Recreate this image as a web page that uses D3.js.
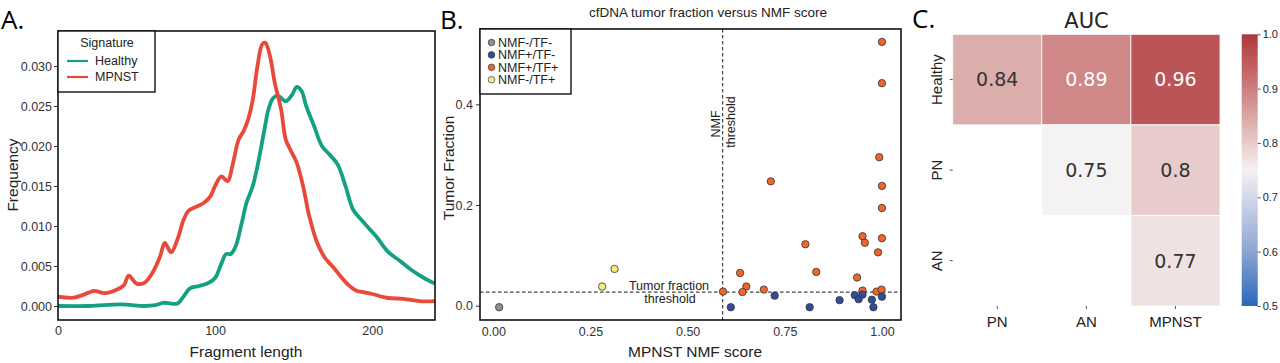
<!DOCTYPE html>
<html>
<head>
<meta charset="utf-8">
<script src="https://cdn.jsdelivr.net/npm/d3@7"></script>
<style>
  body { margin: 0; background: #fff; }
  svg { display: block; }
</style>
</head>
<body>
<div id="chart"></div>
<script>
// ---- data ----
const healthyLength = [0,20,40,55,62,67,72,76,80,84,90,96,100,104,107,110,113,117,120,124,127,131,134,137,140,145,149,152,155,158,163,168,173,178,183,188,193,198,203,210,218,225,233,240];
const healthyFreq = [0,0,0.0002,0,0.0001,0.0004,0.0003,0.0003,0.0012,0.0022,0.0025,0.0029,0.0035,0.0053,0.0065,0.0065,0.0074,0.0104,0.0129,0.0150,0.0175,0.0216,0.0246,0.0260,0.0263,0.0256,0.0264,0.0274,0.0269,0.0250,0.0225,0.0200,0.0189,0.0177,0.0150,0.0120,0.0108,0.0097,0.0086,0.0068,0.0056,0.0045,0.0035,0.0028];
const mpnstLength = [0,10,20,23,30,38,42,45,50,55,60,65,68,72,76,80,83,88,93,97,100,104,108,111,115,118,121,124,127,130,132,135,138,142,145,148,152,156,160,165,170,175,180,185,190,195,200,210,220,230,240];
const mpnstFreq = [0.00117,0.00105,0.0017,0.0019,0.0016,0.0021,0.0026,0.0038,0.0028,0.0029,0.0041,0.0062,0.0079,0.0067,0.0083,0.0108,0.0119,0.0124,0.0129,0.0137,0.0150,0.0162,0.0156,0.0175,0.0208,0.0218,0.0233,0.0258,0.0300,0.0327,0.0329,0.0312,0.0279,0.0246,0.0208,0.0195,0.0179,0.0150,0.0112,0.0079,0.0060,0.0049,0.0037,0.0026,0.0019,0.0017,0.0015,0.0010,0.0009,0.0006,0.0006];
const freqTicks = [0, 0.005, 0.01, 0.015, 0.02, 0.025, 0.03];
const lengthTicks = [0, 100, 200];

const statusGroups = ["NMF-/TF-", "NMF+/TF-", "NMF+/TF+", "NMF-/TF+"];
const nmfScore = [0.015, 0.280, 0.312,
  1.0, 1.0, 0.993, 1.0, 1.0, 1.0, 0.950, 0.956, 0.990, 0.714, 0.803, 0.831, 0.936, 0.635, 0.651, 0.641, 0.591, 0.696, 0.950, 0.986, 0.999,
  0.611, 0.724, 0.814, 0.891, 0.930, 0.940, 0.950, 0.974, 0.978, 1.0];
const tumorFraction = [-0.003, 0.038, 0.073,
  0.524, 0.442, 0.295, 0.238, 0.194, 0.134, 0.138, 0.125, 0.106, 0.247, 0.122, 0.067, 0.056, 0.065, 0.038, 0.027, 0.028, 0.032, 0.030, 0.028, 0.032,
  -0.003, 0.020, -0.003, 0.011, 0.021, 0.013, 0.022, 0.012, -0.003, 0.018];
const sampleStatus = ["NMF-/TF-", "NMF-/TF+", "NMF-/TF+",
  "NMF+/TF+","NMF+/TF+","NMF+/TF+","NMF+/TF+","NMF+/TF+","NMF+/TF+","NMF+/TF+","NMF+/TF+","NMF+/TF+","NMF+/TF+","NMF+/TF+","NMF+/TF+","NMF+/TF+","NMF+/TF+","NMF+/TF+","NMF+/TF+","NMF+/TF+","NMF+/TF+","NMF+/TF+","NMF+/TF+","NMF+/TF+",
  "NMF+/TF-","NMF+/TF-","NMF+/TF-","NMF+/TF-","NMF+/TF-","NMF+/TF-","NMF+/TF-","NMF+/TF-","NMF+/TF-","NMF+/TF-"];
const nmfThreshold = 0.59;
const tfThreshold = 0.027;
const scoreTicks = [0, 0.25, 0.5, 0.75, 1.0];
const fractionTicks = [0, 0.2, 0.4];

const aucRows = ["Healthy", "PN", "AN"];
const aucCols = ["PN", "AN", "MPNST"];
const aucValues = [
  [0.84, 0.89, 0.96],
  [null, 0.75, 0.8],
  [null, null, 0.77]
];
const aucTicks = [0.5, 0.6, 0.7, 0.8, 0.9, 1.0];

// ---- canvas ----
const width = 1280, height = 363;
const svg = d3.select("#chart").append("svg")
    .attr("width", width)
    .attr("height", height)
    .style("font-family", "'Liberation Sans', Arial, sans-serif");

const panelFont = "'Open Sans', 'DejaVu Sans', sans-serif";
const tickColor = "#333";

// ===== Panel A: fragment length =====
const ax = d3.scaleLinear().domain([0, 240]).range([58, 435]);
const ay = d3.scaleLinear().domain([-0.00175, 0.034375]).range([320, 31]);

svg.append("text").attr("x", 1).attr("y", 29)
    .style("font-family", panelFont).style("font-size", "26px").text("A.");

const gA = svg.append("g");
gA.append("g").attr("transform", "translate(0,320)")
    .call(d3.axisBottom(ax).tickValues(lengthTicks).tickSize(0).tickPadding(6))
    .call(g => g.select(".domain").remove())
    .selectAll("text").style("font-size", "12.5px").style("font-family", "inherit").attr("fill", tickColor);
gA.append("g").attr("transform", "translate(58,0)")
    .call(d3.axisLeft(ay).tickValues(freqTicks).tickFormat(d3.format(".3f")).tickSize(4).tickPadding(2))
    .call(g => g.select(".domain").remove())
    .call(g => g.selectAll("line").attr("stroke", tickColor))
    .selectAll("text").style("font-size", "12.5px").style("font-family", "inherit").attr("fill", tickColor);

const lineA = d3.line().x(d => ax(d[0])).y(d => ay(d[1])).curve(d3.curveCatmullRom);
const seriesA = [
  { name: "Healthy", color: "#15a083", pts: d3.zip(healthyLength, healthyFreq) },
  { name: "MPNST", color: "#e8493a", pts: d3.zip(mpnstLength, mpnstFreq) }
];
gA.selectAll("path.curve").data(seriesA).enter().append("path")
    .attr("class", "curve")
    .attr("fill", "none")
    .attr("stroke", d => d.color)
    .attr("stroke-width", 3.8)
    .attr("stroke-linejoin", "round")
    .attr("d", d => lineA(d.pts));

gA.append("rect").attr("x", 58).attr("y", 31).attr("width", 377).attr("height", 289)
    .attr("fill", "none").attr("stroke", "#111").attr("stroke-width", 1.6);

// legend A
gA.append("rect").attr("x", 58).attr("y", 31).attr("width", 97).attr("height", 61)
    .attr("fill", "#fff").attr("stroke", "#111").attr("stroke-width", 1.4);
gA.append("text").attr("x", 107).attr("y", 47).attr("text-anchor", "middle")
    .style("font-size", "12.5px").attr("fill", "#222").text("Signature");
const legA = gA.selectAll("g.leg").data(seriesA).enter().append("g")
    .attr("transform", (d, i) => `translate(0,${61 + i * 16})`);
legA.append("line").attr("x1", 67).attr("x2", 88).attr("stroke", d => d.color).attr("stroke-width", 2.2);
legA.append("text").attr("x", 95).attr("dy", "0.35em").style("font-size", "12.5px").attr("fill", "#222").text(d => d.name);

svg.append("text").attr("x", 246).attr("y", 357).attr("text-anchor", "middle")
    .style("font-size", "15.5px").attr("fill", "#222").text("Fragment length");
svg.append("text").attr("transform", "translate(18,175) rotate(-90)").attr("text-anchor", "middle")
    .style("font-size", "15.5px").attr("fill", "#222").text("Frequency");

// ===== Panel B: scatter =====
const bx = d3.scaleLinear().domain([-0.0343, 1.049]).range([480, 901]);
const by = d3.scaleLinear().domain([-0.0284, 0.5496]).range([320, 29]);
const statusColor = d3.scaleOrdinal().domain(statusGroups).range(["#8e8e8e", "#2f4d9c", "#f0652a", "#f4ea80"]);

svg.append("text").attr("x", 440).attr("y", 29)
    .style("font-family", panelFont).style("font-size", "26px").text("B.");
svg.append("text").attr("x", 708).attr("y", 17).attr("text-anchor", "middle")
    .style("font-size", "13.5px").attr("fill", "#222").text("cfDNA tumor fraction versus NMF score");

const gB = svg.append("g");
gB.append("g").attr("transform", "translate(0,320)")
    .call(d3.axisBottom(bx).tickValues(scoreTicks).tickFormat(d3.format(".2f")).tickSize(0).tickPadding(7))
    .call(g => g.select(".domain").remove())
    .selectAll("text").style("font-size", "12.5px").style("font-family", "inherit").attr("fill", tickColor);
gB.append("g").attr("transform", "translate(480,0)")
    .call(d3.axisLeft(by).tickValues(fractionTicks).tickFormat(d3.format(".1f")).tickSize(4).tickPadding(3))
    .call(g => g.select(".domain").remove())
    .call(g => g.selectAll("line").attr("stroke", tickColor))
    .selectAll("text").style("font-size", "12.5px").style("font-family", "inherit").attr("fill", tickColor);

// threshold lines
gB.append("line").attr("x1", bx(nmfThreshold)).attr("x2", bx(nmfThreshold)).attr("y1", 29).attr("y2", 320)
    .attr("stroke", "#444").attr("stroke-width", 1.2).attr("stroke-dasharray", "3.5,2.5");
gB.append("line").attr("x1", 480).attr("x2", 901).attr("y1", by(tfThreshold)).attr("y2", by(tfThreshold))
    .attr("stroke", "#444").attr("stroke-width", 1.2).attr("stroke-dasharray", "3.5,2.5");

gB.append("text").attr("transform", `translate(${bx(nmfThreshold) - 3},124) rotate(-90)`).attr("text-anchor", "middle")
    .style("font-size", "12.5px").attr("fill", "#222").text("NMF");
gB.append("text").attr("transform", `translate(${bx(nmfThreshold) + 12.5},122) rotate(-90)`).attr("text-anchor", "middle")
    .style("font-size", "12.5px").attr("fill", "#222").text("threshold");
gB.append("text").attr("x", 669).attr("y", 290).attr("text-anchor", "middle")
    .style("font-size", "12.5px").attr("fill", "#222").text("Tumor fraction");
gB.append("text").attr("x", 670).attr("y", 303).attr("text-anchor", "middle")
    .style("font-size", "12.5px").attr("fill", "#222").text("threshold");

const points = d3.range(nmfScore.length).map(i => ({ x: nmfScore[i], y: tumorFraction[i], s: sampleStatus[i] }));
gB.selectAll("circle.pt").data(points).enter().append("circle")
    .attr("class", "pt")
    .attr("cx", d => bx(d.x))
    .attr("cy", d => by(d.y))
    .attr("r", 3.7)
    .attr("fill", d => statusColor(d.s))
    .attr("stroke", "#333")
    .attr("stroke-width", 0.8);

gB.append("rect").attr("x", 480).attr("y", 29).attr("width", 421).attr("height", 291)
    .attr("fill", "none").attr("stroke", "#111").attr("stroke-width", 1.6);

// legend B
gB.append("rect").attr("x", 480).attr("y", 29).attr("width", 91).attr("height", 65)
    .attr("fill", "#fff").attr("stroke", "#111").attr("stroke-width", 1.4);
const legB = gB.selectAll("g.legb").data(statusGroups).enter().append("g")
    .attr("transform", (d, i) => `translate(0,${42.5 + i * 12.4})`);
legB.append("circle").attr("cx", 491.5).attr("r", 3.3).attr("fill", d => statusColor(d)).attr("stroke", "#333").attr("stroke-width", 0.7);
legB.append("text").attr("x", 498).attr("dy", "0.35em").style("font-size", "12.5px").attr("fill", "#222").text(d => d);

svg.append("text").attr("x", 695).attr("y", 357).attr("text-anchor", "middle")
    .style("font-size", "15.5px").attr("fill", "#222").text("MPNST NMF score");
svg.append("text").attr("transform", "translate(454,168) rotate(-90)").attr("text-anchor", "middle")
    .style("font-size", "15.5px").attr("fill", "#222").text("Tumor Fraction");

// ===== Panel C: AUC heatmap =====
const heatFont = "'DejaVu Sans', sans-serif";
const cx = d3.scaleBand().domain(aucCols).range([952.7, 1220]);
const cy = d3.scaleBand().domain(aucRows).range([34.3, 306]);
const auc = d3.scaleLinear()
    .domain([0.5, 0.6, 0.75, 0.84, 0.925, 1.0])
    .range(["#2a67b8", "#8ea5d3", "#f4f2f2", "#dcaeab", "#c66b6d", "#ac393d"])
    .interpolate(d3.interpolateRgb)
    .clamp(true);

svg.append("text").attr("x", 912).attr("y", 28)
    .style("font-family", panelFont).style("font-size", "26px").text("C.");

const gC = svg.append("g").style("font-family", heatFont);
gC.append("text").attr("x", 1086.5).attr("y", 28).attr("text-anchor", "middle")
    .style("font-size", "21px").attr("fill", "#222").text("AUC");

const cells = [];
aucValues.forEach((row, i) => row.forEach((v, j) => { if (v !== null) cells.push({ r: aucRows[i], c: aucCols[j], v: v }); }));

gC.selectAll("rect.cell").data(cells).enter().append("rect")
    .attr("class", "cell")
    .attr("x", d => cx(d.c))
    .attr("y", d => cy(d.r))
    .attr("width", cx.bandwidth())
    .attr("height", cy.bandwidth())
    .attr("fill", d => auc(d.v))
    .attr("stroke", "#fff")
    .attr("stroke-width", 0.8);
gC.selectAll("text.cell").data(cells).enter().append("text")
    .attr("class", "cell")
    .attr("x", d => cx(d.c) + cx.bandwidth() / 2)
    .attr("y", d => cy(d.r) + cy.bandwidth() / 2)
    .attr("dy", "0.36em")
    .attr("text-anchor", "middle")
    .style("font-size", "19px")
    .attr("fill", d => d.v > 0.86 ? "#fff" : "#333")
    .text(d => d.v);

// row labels, rotated
gC.append("g").attr("transform", "translate(952.7,0)")
    .call(d3.axisLeft(cy).tickSize(3).tickPadding(4))
    .call(g => g.select(".domain").remove())
    .call(g => g.selectAll("line").attr("stroke", "#555"))
    .selectAll("text")
    .style("font-size", "15px").style("font-family", "inherit").attr("fill", "#222")
    .attr("text-anchor", "middle")
    .attr("x", 0).attr("dy", 0)
    .attr("transform", "translate(-11,0) rotate(-90)");

gC.append("g").attr("transform", "translate(0,306)")
    .call(d3.axisBottom(cx).tickSize(3).tickPadding(7))
    .call(g => g.select(".domain").remove())
    .call(g => g.selectAll("line").attr("stroke", "#555"))
    .selectAll("text").style("font-size", "15px").style("font-family", "inherit").attr("fill", "#222");

// colorbar
const cbScale = d3.scaleLinear().domain([0.5, 1.0]).range([306, 34.3]);
const grad = svg.append("defs").append("linearGradient")
    .attr("id", "aucgrad").attr("x1", 0).attr("y1", 1).attr("x2", 0).attr("y2", 0);
grad.selectAll("stop").data(d3.range(0, 1.0001, 0.05)).enter().append("stop")
    .attr("offset", d => d)
    .attr("stop-color", d => auc(0.5 + d * 0.5));
gC.append("rect").attr("x", 1241.7).attr("y", 34.3).attr("width", 16).attr("height", 271.7)
    .attr("fill", "url(#aucgrad)");
gC.append("g").attr("transform", "translate(1257.7,0)")
    .call(d3.axisRight(cbScale).tickValues(aucTicks).tickFormat(d3.format(".1f")).tickSize(3).tickPadding(2))
    .call(g => g.select(".domain").remove())
    .call(g => g.selectAll("line").attr("stroke", "#555"))
    .selectAll("text").style("font-size", "11px").style("font-family", "inherit").attr("fill", "#222");
</script>
</body>
</html>
